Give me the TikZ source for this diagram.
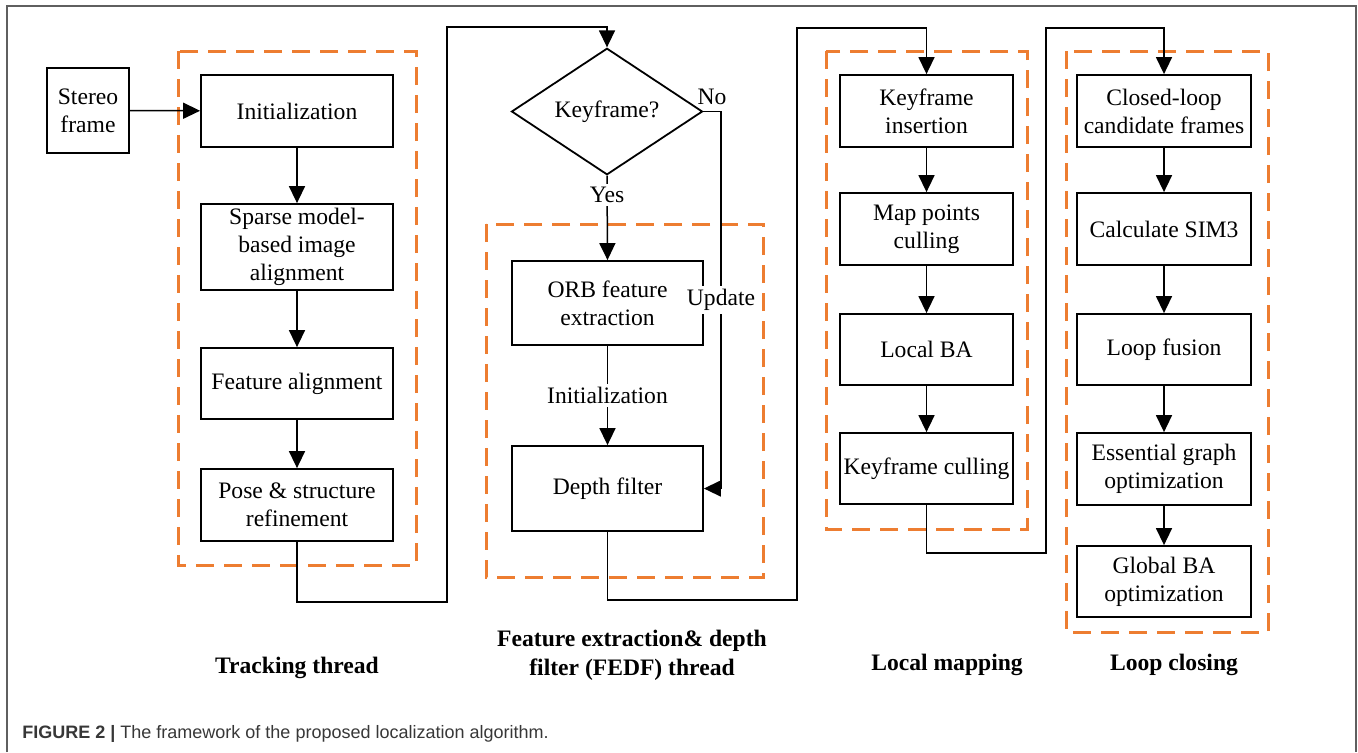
\documentclass[tikz,border=0pt]{standalone}
\usepackage{fontspec}
\setmainfont{Liberation Serif}
\newfontfamily\capfont{Liberation Sans}
\definecolor{frorange}{RGB}{237,125,49}
\definecolor{frgray}{RGB}{95,95,95}
\definecolor{capgray}{RGB}{55,55,55}
\usetikzlibrary{shapes.geometric,arrows.meta}
\newcommand\dgfont{\fontsize{11.8}{14}\selectfont}
\tikzset{
    box/.style={
        draw=black, line width=0.9pt, minimum width=#1, minimum height=36pt,
        inner sep=1pt, align=center, font=\dgfont
    },
    box/.default=96pt,
    decision/.style={
        draw=black, line width=0.9pt, diamond, minimum width=95.5pt,
        minimum height=50.5pt, inner sep=0pt, align=center, font=\dgfont
    },
    group/.style={
        draw=frorange, line width=1.5pt, dash pattern=on 9pt off 5pt
    },
    arrow/.style={
        -{Triangle[length=8.5pt,width=8pt]}, line width=0.75pt, draw=black
    },
    lbl/.style={fill=white, inner sep=1.5pt, font=\dgfont},
    title/.style={align=center, font=\fontsize{11.8}{14.5}\selectfont\bfseries}
}

\begin{document}
\begin{tikzpicture}[x=0.5pt, y=-0.5pt]
    \useasboundingbox (0,0) rectangle (1358,752);
    \draw[frgray, line width=1pt] (7,752) -- (7,6) -- (1356,6) -- (1356,752);

    \draw[group] (178,51) rectangle (416,565);
    \draw[group] (486,224) rectangle (763,577);
    \draw[group] (826,51) rectangle (1027,529);
    \draw[group] (1066,51) rectangle (1268,632);

    \node[box=41pt, minimum height=42.5pt] (stereo) at (88,110.5) {Stereo\\frame};
    \node[box] (init) at (297,111) {Initialization};
    \node[box, minimum height=43pt] (sparse) at (297,247) {Sparse model-\\based image\\alignment};
    \node[box, minimum height=35.5pt] (featal) at (297,383.5) {Feature alignment};
    \node[box] (pose) at (297,505) {Pose \& structure\\refinement};

    \node[decision] (key) at (607,111.5) {Keyframe?};
    \node[box=95.5pt, minimum height=42pt] (orb) at (607.5,303) {ORB feature\\extraction};
    \node[box=95.5pt, minimum height=42.5pt] (depth) at (607.5,488.5) {Depth filter};

    \node[box=86.5pt] (kfins) at (926.5,111) {Keyframe\\insertion};
    \node[box=86.5pt] (mapcull) at (926.5,229) {Map points\\culling};
    \node[box=86.5pt, minimum height=35.5pt] (localba) at (926.5,349.5) {Local BA};
    \node[box=86.5pt, minimum height=35.5pt] (kfcull) at (926.5,468.5) {Keyframe culling};

    \node[box=87pt] (closed) at (1164,111) {Closed-loop\\candidate frames};
    \node[box=87pt] (sim3) at (1164,229) {Calculate SIM3};
    \node[box=87pt, minimum height=35.5pt] (fusion) at (1164,349.5) {Loop fusion};
    \node[box=87pt] (essential) at (1164,469) {Essential graph\\optimization};
    \node[box=87pt, minimum height=35.5pt] (global) at (1164,581.5) {Global BA\\optimization};

    \coordinate (t1) at (447,602);
    \coordinate (t2) at (447,27);
    \coordinate (f1) at (797,600);
    \coordinate (f2) at (797,28);
    \coordinate (m1) at (1046,553);
    \coordinate (m2) at (1046,28);
    \coordinate (n1) at (721,111.5);

    \draw[arrow] (stereo) -- (init);
    \draw[arrow] (init) -- (sparse);
    \draw[arrow] (sparse) -- (featal);
    \draw[arrow] (featal) -- (pose);
    \draw[arrow] (pose.south) |- (t1) -- (t2) -| (key.north);

    \draw[arrow] (key.south) -- node[lbl, pos=.23] {Yes} (orb.north);
    \draw[arrow] (key.east) -- (n1) |- node[lbl, pos=.25] {Update} (depth.east);
    \node[font=\dgfont] (no) at (712,97) {No};
    \draw[arrow] (orb) -- node[lbl] {Initialization} (depth);
    \draw[arrow] (depth.south) |- (f1) -- (f2) -| (kfins.north);

    \draw[arrow] (kfins) -- (mapcull);
    \draw[arrow] (mapcull) -- (localba);
    \draw[arrow] (localba) -- (kfcull);
    \draw[arrow] (kfcull.south) |- (m1) -- (m2) -| (closed.north);

    \draw[arrow] (closed) -- (sim3);
    \draw[arrow] (sim3) -- (fusion);
    \draw[arrow] (fusion) -- (essential);
    \draw[arrow] (essential) -- (global);

    \node[title] (ttrack) at (297,668) {Tracking thread};
    \node[title] (tfedf) at (632,655) {Feature extraction\& depth\\filter (FEDF) thread};
    \node[title] (tlocal) at (947,665) {Local mapping};
    \node[title] (tloop) at (1174,665) {Loop closing};

    \node[anchor=base west, inner sep=0pt, text=capgray,
          font=\capfont\fontsize{9}{11}\selectfont] (cap) at (22,738)
          {\textbf{FIGURE 2 |} The framework of the proposed localization algorithm.};
\end{tikzpicture}
\end{document}
